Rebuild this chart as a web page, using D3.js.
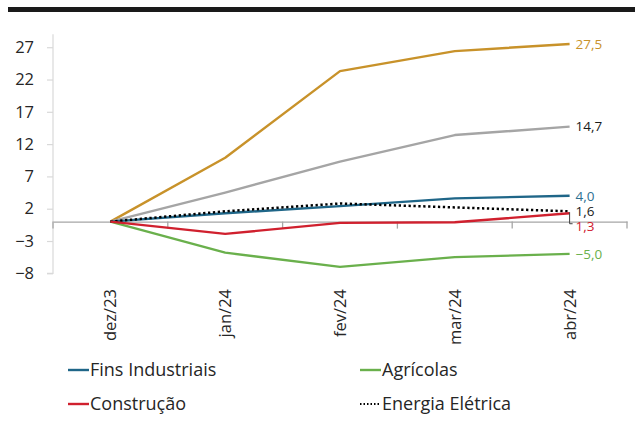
<!DOCTYPE html>
<html>
<head>
<meta charset="utf-8">
<script src="https://cdn.jsdelivr.net/npm/d3@7/dist/d3.min.js"></script>
<style>
  html, body { margin: 0; padding: 0; background: #fff; }
  svg { display: block; font-family: "Open Sans", sans-serif; }
</style>
</head>
<body>
<svg id="chart" width="635" height="423"></svg>
<script>
// Months on the category axis
const months = ["dez/23", "jan/24", "fev/24", "mar/24", "abr/24"];

// Cumulative variation by consumption class (%)
const finsIndustriais = [0, 1.3, 2.4, 3.6, 4.0];
const agricolas       = [0, -4.8, -7.0, -5.5, -5.0];
const construcao      = [0, -1.9, -0.2, -0.1, 1.3];
const energiaEletrica = [0, 1.6, 2.8, 2.2, 1.6];
const serieOuro       = [0, 9.9, 23.3, 26.4, 27.5];
const serieCinza      = [0, 4.5, 9.3, 13.4, 14.7];

// Value-axis ticks
const yTicks = [-8, -3, 2, 7, 12, 17, 22, 27];

// Series definitions built from the arrays above
const series = [
  { name: "Série ouro",       values: serieOuro,       color: "#c8922a", labelColor: "#c8922a", legend: false },
  { name: "Série cinza",      values: serieCinza,      color: "#a5a5a5", labelColor: "#1a1a1a", legend: false },
  { name: "Fins Industriais", values: finsIndustriais, color: "#1f6688", labelColor: "#2e6f91", legend: true },
  { name: "Agrícolas",        values: agricolas,       color: "#6ab04c", labelColor: "#6ab04c", legend: true },
  { name: "Energia Elétrica", values: energiaEletrica, color: "#000000", labelColor: "#1a1a1a", legend: true, dotted: true },
  { name: "Construção",       values: construcao,      color: "#d0202e", labelColor: "#d0202e", legend: true }
];

const svg = d3.select("#chart");

// Heavy rule across the top
svg.append("rect")
  .attr("x", 8).attr("y", 7).attr("width", 627).attr("height", 5)
  .attr("fill", "#1a1a1a");

const plotLeft = 53, plotRight = 627;
const x = d3.scaleBand().domain(months).range([plotLeft, plotRight]);
const xc = d => x(d) + x.bandwidth() / 2;
const y = d3.scaleLinear().domain([-8, 29]).range([273.3, 34.3]);

// Value axis
const yAxis = d3.axisLeft(y).tickValues(yTicks).tickSize(6).tickPadding(13)
  .tickFormat(d3.format("d"));
const gy = svg.append("g").attr("transform", `translate(${plotLeft},0)`).call(yAxis);
gy.select(".domain").attr("stroke", "#d9d9d9").attr("stroke-width", 1.2)
  .attr("d", `M-6,${y(-8)}H0V${y(29)}`);
gy.selectAll(".tick line").attr("stroke", "#d9d9d9").attr("stroke-width", 1.2);
gy.selectAll(".tick text").attr("fill", "#262626").attr("font-size", 16.5)
  .attr("font-family", "'Open Sans', sans-serif");

// Category axis drawn along zero
const gx = svg.append("g").attr("transform", `translate(0,${y(0)})`)
  .call(d3.axisBottom(x).tickSize(0).tickFormat(""));
gx.select(".domain").attr("stroke", "#a6a6a6").attr("stroke-width", 1.3);
gx.selectAll(".tick").remove();
const bounds = months.map(m => x(m)).concat([plotRight]);
gx.selectAll("line.sep").data(bounds).enter().append("line")
  .attr("class", "sep")
  .attr("x1", d => d).attr("x2", d => d)
  .attr("y1", 0).attr("y2", 7)
  .attr("stroke", "#a6a6a6").attr("stroke-width", 1.3);

// Rotated month labels
svg.append("g").selectAll("text").data(months).enter().append("text")
  .attr("transform", d => `translate(${xc(d) + 6},289) rotate(-90)`)
  .attr("text-anchor", "end")
  .attr("font-size", 16.5)
  .attr("fill", "#262626")
  .text(d => d);

// Lines
const line = d3.line().x((d, i) => xc(months[i])).y(d => y(d));
svg.append("g").selectAll("path").data(series).enter().append("path")
  .attr("d", d => line(d.values))
  .attr("fill", "none")
  .attr("stroke", d => d.color)
  .attr("stroke-width", d => d.dotted ? 2.5 : 2.4)
  .attr("stroke-dasharray", d => d.dotted ? "2.3,2.6" : null)
  .attr("stroke-linejoin", "round");

// End-of-line value labels
const fmt = v => d3.format(".1f")(v).replace(".", ",");
const lastX = xc(months[months.length - 1]);
const labelShift = { "Construção": 13.5, "Energia Elétrica": 0 };
const labels = svg.append("g");
series.forEach(s => {
  const v = s.values[s.values.length - 1];
  const dy = labelShift[s.name] || 0;
  labels.append("text")
    .attr("x", lastX + 6)
    .attr("y", y(v) + dy)
    .attr("dy", "0.35em")
    .attr("font-size", 13.5)
    .attr("fill", s.labelColor)
    .text(fmt(v));
  if (s.name === "Construção") {
    labels.append("path")
      .attr("d", `M${lastX},${y(v) - 1}V${y(v) + dy - 3}H${lastX + 3}`)
      .attr("fill", "none").attr("stroke", "#404040").attr("stroke-width", 1);
  }
});

// Legend
const legendItems = ["Fins Industriais", "Agrícolas", "Construção", "Energia Elétrica"]
  .map(n => series.find(s => s.name === n));
const lg = svg.append("g");
legendItems.forEach((s, i) => {
  const col = i % 2, row = Math.floor(i / 2);
  const lx = col === 0 ? 68 : 360;
  const ly = row === 0 ? 370 : 404;
  lg.append("line")
    .attr("x1", lx).attr("x2", lx + 21).attr("y1", ly).attr("y2", ly)
    .attr("stroke", s.color)
    .attr("stroke-width", s.dotted ? 1.8 : 2.4)
    .attr("stroke-dasharray", s.dotted ? "1.5,2" : null);
  lg.append("text")
    .attr("x", lx + 22).attr("y", ly).attr("dy", "0.35em")
    .attr("font-size", 18)
    .attr("fill", "#262626")
    .text(s.name);
});
</script>
</body>
</html>
